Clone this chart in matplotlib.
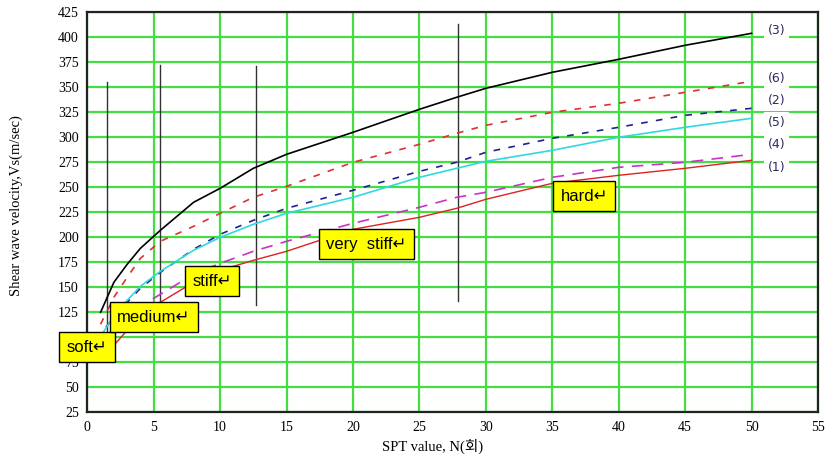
import numpy as np
import matplotlib.pyplot as plt

# SPT N values along each curve
n_3 = [1, 2, 3, 4, 5.5, 8, 10, 12.5, 15, 20, 25, 27.8, 30, 35, 40, 45, 50]
vs_3 = [125, 155, 173, 189, 207, 235, 249, 269, 283, 305, 328, 340, 349, 365, 378, 392, 404]

n_6 = [1, 2, 3, 4, 5.5, 8, 10, 12.5, 15, 20, 25, 27.8, 30, 35, 40, 45, 50]
vs_6 = [113, 140, 160, 179, 196, 211, 224, 240, 251, 275, 293, 304, 312, 325, 334, 345, 356]

n_2 = [1.4, 2, 3, 4, 5.5, 8, 10, 12.5, 15, 20, 25, 27.8, 30, 35, 40, 45, 50]
vs_2 = [110, 120, 135, 149, 165, 188, 203, 217, 229, 247, 266, 275, 285, 299, 310, 322, 329]

n_5 = [1.2, 2, 3, 4, 5.5, 8, 10, 12.5, 15, 20, 25, 27.8, 30, 35, 40, 45, 50]
vs_5 = [105, 121, 137, 151, 166, 187, 200, 213, 224, 240, 260, 269, 276, 287, 300, 310, 319]

n_4 = [1.5, 2, 3, 4, 5.5, 8, 10, 12.5, 15, 20, 25, 27.8, 30, 35, 40, 45, 50]
vs_4 = [100, 106, 120, 131, 143, 163, 174, 186, 196, 214, 230, 240, 245, 260, 270, 275, 283]

n_1 = [1.7, 2, 3, 4, 5.5, 8, 10, 12.5, 15, 20, 25, 27.8, 30, 35, 40, 45, 50]
vs_1 = [87, 92, 107, 118, 135, 155, 167, 177, 186, 208, 220, 229, 238, 254, 262, 269, 277]

# soil class boundaries (vertical lines): N, bottom, top
bound_n = [1.5, 5.5, 12.7, 27.9]
bound_lo = [100, 135, 132, 136]
bound_hi = [355, 372, 371, 413]

# soil class boxes
class_text = ['soft↵', 'medium↵', 'stiff↵', 'very  stiff↵', 'hard↵']
class_n = [0.0, 5.0, 9.4, 21.0, 37.4]
class_vs = [90, 120, 156, 193, 241]

# curve labels on the right
curve_text = ['(3)', '(6)', '(2)', '(5)', '(4)', '(1)']
curve_vs = [407, 359, 337, 315, 293, 270]

fig = plt.figure(figsize=(8.29, 4.61), dpi=100)
ax = fig.add_axes([0.1053, 0.1056, 0.8814, 0.8677])

ax.set_xlim(0, 55)
ax.set_ylim(25, 425)
ax.set_xticks(np.arange(0, 56, 5))
ax.set_yticks(np.arange(25, 426, 25))
ax.grid(True, color='#44dd44', linewidth=1.6, zorder=0)
ax.set_axisbelow(True)
ax.tick_params(length=0, labelsize=10, pad=6)
for lab in ax.get_xticklabels() + ax.get_yticklabels():
    lab.set_fontfamily('Liberation Serif')
for side in ['left', 'bottom', 'right', 'top']:
    ax.spines[side].set_linewidth(1.6)
    ax.spines[side].set_color('#222222')

for x, lo, hi in zip(bound_n, bound_lo, bound_hi):
    ax.plot([x, x], [lo, hi], color='#333333', linewidth=1.0, zorder=2)

ax.plot(n_3, vs_3, color='black', linewidth=1.2, zorder=3)
ax.plot(n_6, vs_6, color='#e03030', linewidth=1.2, linestyle=(0, (4, 5)), zorder=3)
ax.plot(n_2, vs_2, color='#202090', linewidth=1.2, linestyle=(0, (4, 5)), zorder=3)
ax.plot(n_5, vs_5, color='#30d8e0', linewidth=1.2, zorder=3)
ax.plot(n_4, vs_4, color='#cc30cc', linewidth=1.2, linestyle=(0, (7, 5)), zorder=3)
ax.plot(n_1, vs_1, color='#dd2222', linewidth=1.0, zorder=3)

for t, x, y in zip(class_text, class_n, class_vs):
    ax.text(x, y, t, fontsize=12, family=['Liberation Sans', 'DejaVu Sans'], ha='center',
            va='center', zorder=5,
            bbox=dict(boxstyle='square,pad=0.45', fc='#ffff00', ec='black', lw=1.0),
            clip_on=False)

for t, y in zip(curve_text, curve_vs):
    ax.text(51.2, y, t, fontsize=9, family='DejaVu Sans', color='#2a2a60', ha='left', va='center',
            zorder=5, bbox=dict(boxstyle='square,pad=0.3', fc='white', ec='none'))

ax.set_ylabel('Shear wave velocity,Vs(m/sec)', fontsize=10.5, family='Liberation Serif')
ax.yaxis.set_label_coords(-0.088, 0.516)
ax.set_xlabel('SPT value, N(회)', fontsize=10.5, family=['Liberation Serif', 'Noto Sans CJK KR'])
ax.xaxis.set_label_coords(0.472, -0.066)

fig.savefig('out.png', dpi=100)
